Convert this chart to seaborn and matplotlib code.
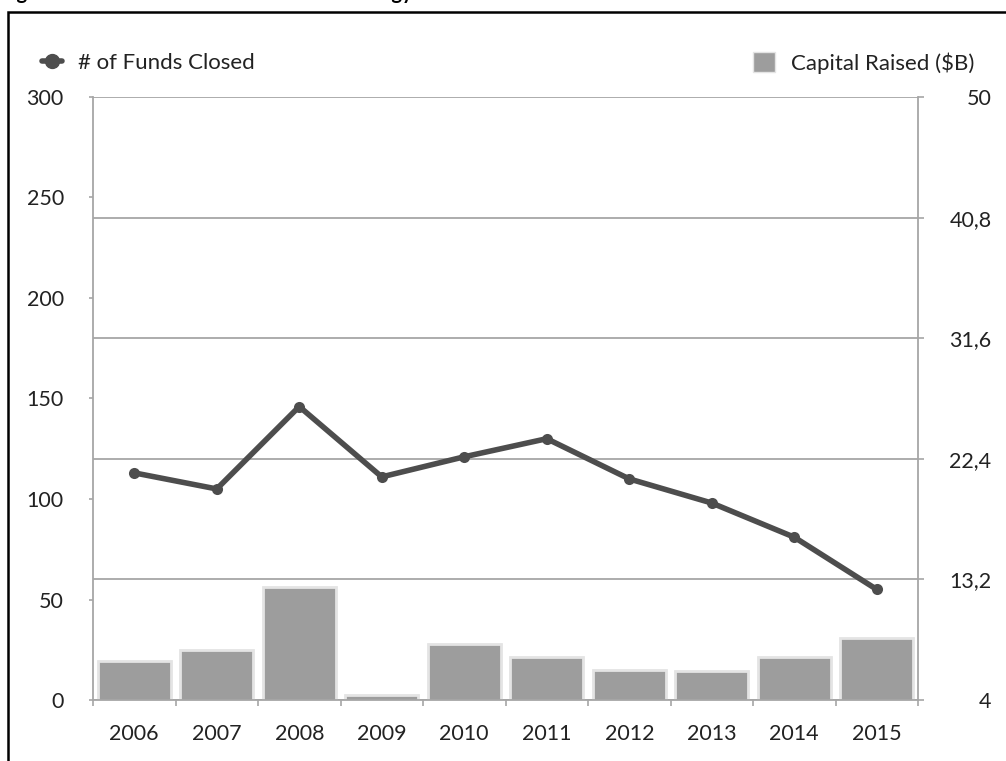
import numpy as np
import pandas as pd
import matplotlib
matplotlib.use("Agg")
import matplotlib.pyplot as plt
import seaborn as sns
from matplotlib.lines import Line2D
from matplotlib.patches import Patch, Rectangle

# ---- data ----
years = ["2006", "2007", "2008", "2009", "2010", "2011", "2012", "2013", "2014", "2015"]
funds_closed = [113, 105, 146, 111, 121, 130, 110, 98, 81, 55]
capital_raised = [7.0, 7.8, 12.6, 4.4, 8.3, 7.3, 6.3, 6.2, 7.3, 8.7]
left_ticks = [0, 50, 100, 150, 200, 250, 300]
right_ticks = [4, 13.2, 22.4, 31.6, 40.8, 50]
right_tick_labels = ["4", "13,2", "22,4", "31,6", "40,8", "50"]
title_text = "Figure 5: Venture Funds Closed in Technology"
line_label = "# of Funds Closed"
bar_label = "Capital Raised ($B)"

df = pd.DataFrame({"year": years, "funds": funds_closed, "capital": capital_raised})

sns.set_theme(style="white")
plt.rcParams["font.family"] = ["Lato", "DejaVu Sans"]

W, H = 1006, 761
fig = plt.figure(figsize=(W / 100, H / 100), dpi=100)
fig.patch.set_facecolor("white")

grey_axis = "#a6a6a6"
text_col = "#222222"
tick_fs = 15.5

ax = fig.add_axes([93 / W, 1 - 700 / H, (918 - 93) / W, (700 - 97) / H])
sns.barplot(data=df, x="year", y="capital", ax=ax, color="#9d9d9d",
            edgecolor="#e4e4e4", linewidth=2.0, width=0.89, saturation=1)
ax.set_ylim(4, 50)
ax.set_xlim(-0.5, len(years) - 0.5)
ax.set_xlabel("")
ax.set_ylabel("")

# left axis (line) on a twin drawn above the bars
ax2 = ax.twinx()
sns.lineplot(x=np.arange(len(years)), y=funds_closed, ax=ax2, color="#4d4d4d",
             linewidth=4, marker="o", markersize=8, markeredgewidth=0)
ax2.set_ylim(0, 300)
ax2.set_xlim(-0.5, len(years) - 0.5)
ax2.yaxis.tick_left()
ax2.set_yticks(left_ticks)
ax2.tick_params(axis="y", which="major", left=True, right=False, length=3, width=1.2,
                color=grey_axis, labelsize=tick_fs, labelcolor=text_col, pad=18)
ax2.set_ylabel("")
for side in ["left", "right", "bottom", "top"]:
    ax2.spines[side].set_visible(False)
ax2.grid(False)

# right axis (bars)
ax.yaxis.tick_right()
ax.set_yticks(right_ticks)
ax.set_yticklabels(right_tick_labels)
ax.tick_params(axis="y", which="major", right=True, left=False, labelright=True,
               labelleft=False, length=4, width=1.2,
               color=grey_axis, labelsize=tick_fs, labelcolor=text_col, pad=49)
for lab in ax.get_yticklabels():
    lab.set_horizontalalignment("right")
ax.yaxis.grid(True, color=grey_axis, linewidth=1.3)
ax.set_axisbelow(True)

# x axis
ax.set_xticks(range(len(years)))
ax.set_xticklabels(years)
ax.set_xticks(np.arange(-0.5, len(years), 1.0), minor=True)
ax.tick_params(axis="x", which="major", length=0, labelsize=tick_fs, labelcolor=text_col, pad=17)
ax.tick_params(axis="x", which="minor", bottom=True, length=4, width=1.2, color=grey_axis)

for side in ["left", "right", "bottom"]:
    ax.spines[side].set_visible(True)
    ax.spines[side].set_color(grey_axis)
    ax.spines[side].set_linewidth(1.3)
ax.spines["top"].set_visible(False)

# legends
h1 = Line2D([0], [0], color="#4d4d4d", linewidth=4, marker="o", markersize=10)
fig.legend(handles=[h1], labels=[line_label], loc="center left",
           bbox_to_anchor=(22 / W, 1 - 63 / H), frameon=False, fontsize=16,
           handlelength=0.9, handletextpad=0.7, labelcolor=text_col)
h2 = Patch(facecolor="#9d9d9d", edgecolor="#e4e4e4")
fig.legend(handles=[h2], labels=[bar_label], loc="center left",
           bbox_to_anchor=(733 / W, 1 - 63 / H), frameon=False, fontsize=16,
           handlelength=1.0, handleheight=1.0, handletextpad=0.7, labelcolor=text_col)

# frame and clipped title
top_frac = 1 - 12 / H
fig.patches.append(Rectangle((8 / W, -0.2), 1.2, top_frac + 0.2, transform=fig.transFigure,
                             fill=False, edgecolor="black", linewidth=1.8))
fig.text(0 / W, 1 + 1 / H, title_text, ha="left", va="baseline", fontsize=14.5,
         fontweight="bold", color="black")

fig.savefig("out.png", dpi=100, facecolor="white")
